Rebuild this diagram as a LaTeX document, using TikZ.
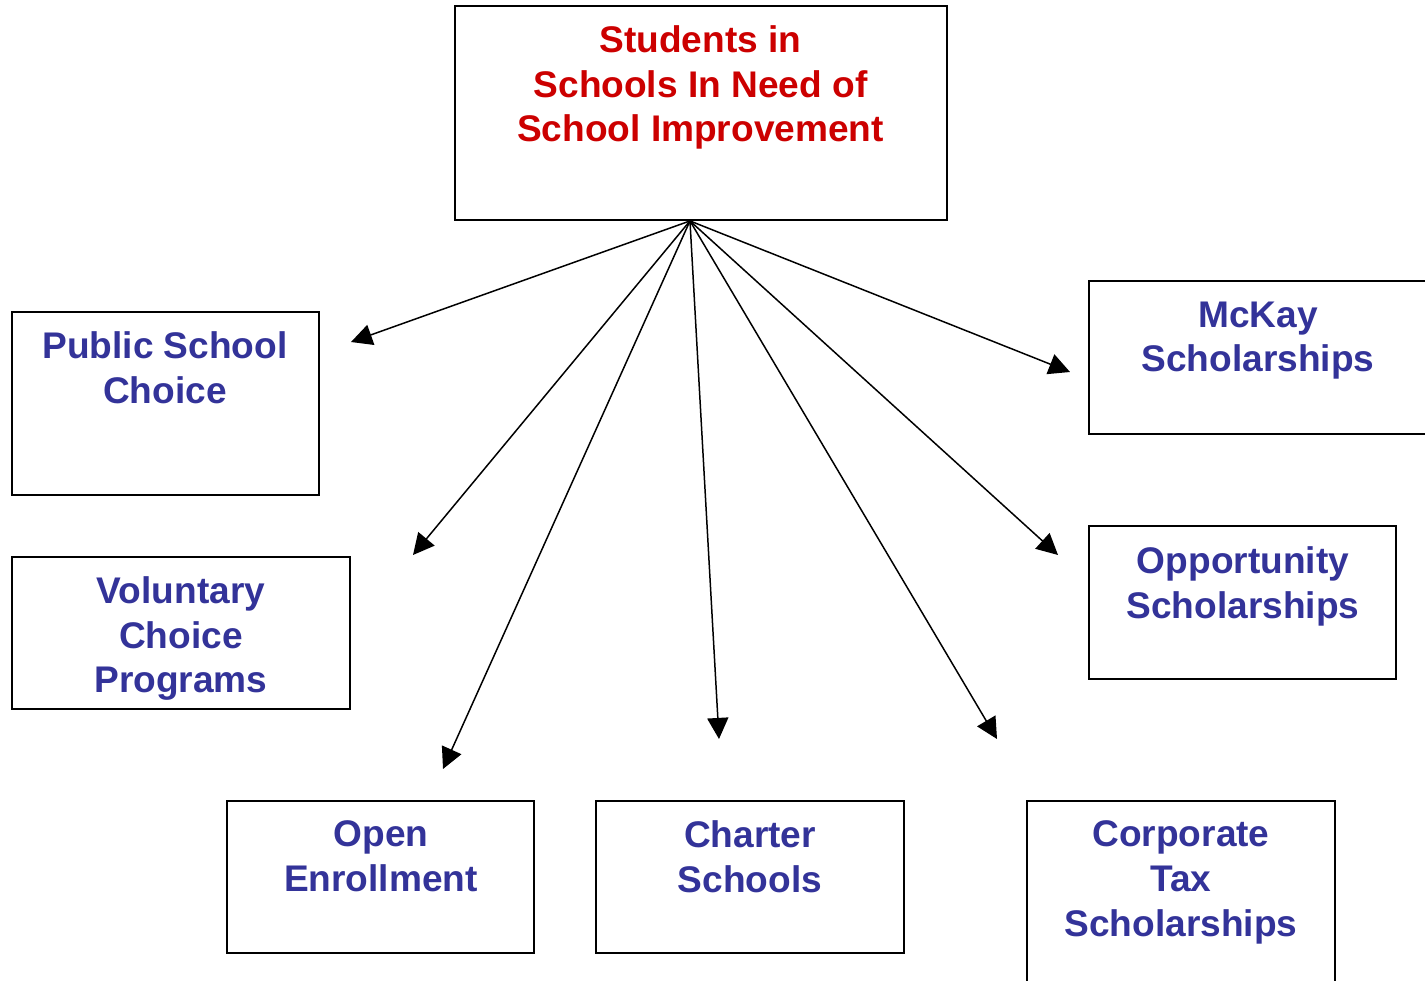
\documentclass[tikz,border=0pt]{standalone}
\usepackage{fontspec}
\setmainfont{Liberation Sans}
\usetikzlibrary{arrows.meta}
\definecolor{tred}{RGB}{204,0,0}
\definecolor{tblue}{RGB}{51,51,153}
\tikzset{
  box/.style={draw, line width=1.1pt, anchor=north west, inner sep=0pt},
  lbl/.style={anchor=north, inner sep=0pt, align=center, font=\fontsize{21.1}{25.4}\selectfont\bfseries, text=tblue},
  arr/.style={line width=0.85pt, -{Triangle[length=12pt,width=12pt]}}
}
\begin{document}
\begin{tikzpicture}[x=0.02cm,y=-0.02cm]
\clip (0,0) rectangle (1425,980);
\fill[white] (0,0) rectangle (1425,980);
% boxes
\node[box, minimum width={492*0.02cm}, minimum height={214*0.02cm}] (top) at (454,5) {};
\node[box, minimum width={307*0.02cm}, minimum height={183*0.02cm}] (psc) at (11,311) {};
\node[box, minimum width={338*0.02cm}, minimum height={152*0.02cm}] (vcp) at (11,556) {};
\node[box, minimum width={307*0.02cm}, minimum height={152*0.02cm}] (open) at (226,800) {};
\node[box, minimum width={308*0.02cm}, minimum height={152*0.02cm}] (charter) at (595,800) {};
\node[box, minimum width={308*0.02cm}, minimum height={200*0.02cm}] (corp) at (1026,800) {};
\node[box, minimum width={345*0.02cm}, minimum height={153*0.02cm}] (mckay) at (1088,280) {};
\node[box, minimum width={307*0.02cm}, minimum height={153*0.02cm}] (opp) at (1088,525) {};
% labels
\node[lbl, text=tred] (ttop) at (700.5,25.5) {Students in\\Schools In Need of\\School Improvement};
\node[lbl] (tpsc) at (165,331.5) {Public School\\Choice};
\node[lbl] (tvcp) at (181,576.5) {Voluntary\\Choice\\Programs};
\node[lbl] (topen) at (381,820.5) {Open\\Enrollment};
\node[lbl] (tcharter) at (750,820.5) {Charter\\Schools};
\node[lbl] (tcorp) at (1181,820.5) {Corporate\\Tax\\Scholarships};
\node[lbl] (tmckay) at (1258,301.5) {McKay\\Scholarships};
\node[lbl] (topp) at (1243,546.5) {Opportunity\\Scholarships};
% arrow ends
\coordinate (src) at ([xshift={-11*0.02cm}]top.south);
\coordinate (e1) at (351,342);
\coordinate (e2) at (413,555);
\coordinate (e3) at (443,769);
\coordinate (e4) at (719,739);
\coordinate (e5) at (997,739);
\coordinate (e6) at (1058,555);
\coordinate (e7) at (1070,372);
\foreach \e in {e1,e2,e3,e4,e5,e6,e7} \draw[arr] (src) -- (\e);
\end{tikzpicture}
\end{document}
